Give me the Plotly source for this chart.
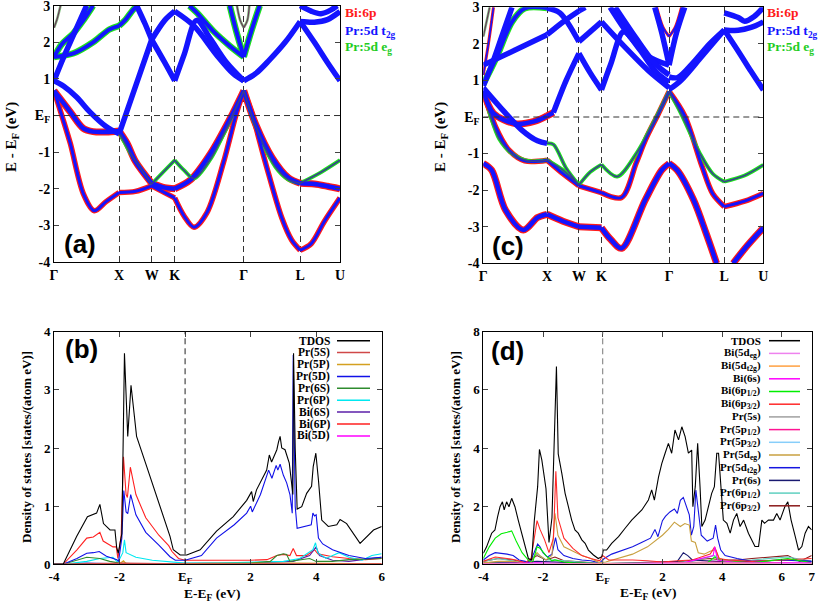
import plotly.graph_objects as go

# ---- band structure path (fcc, units of 2pi/a) ----
kpath = [0.0, 1.0, 1.5, 1.854, 2.915, 3.781, 4.393]
klabels = ['Γ', 'X', 'W', 'K', 'Γ', 'L', 'U']
band_ticks = [-4, -3, -2, -1, 0, 1, 2, 3]
band_ticktext = ['-4', '-3', '-2', '-1', 'E<sub>F</sub>', '1', '2', '3']

# ---- panel (a) bands, (k, E) ----
a_low = [(0, 0.68), (0.12, 0.0), (0.25, -0.76), (0.45, -2.13), (0.62, -2.6), (0.8, -2.35), (1.0, -2.1),
         (1.25, -2.07), (1.5, -1.92), (1.854, -2.25), (2.0, -2.75), (2.15, -3.05), (2.35, -2.65),
         (2.6, -1.3), (2.8, 0.05), (2.915, 0.68), (3.05, 0.0), (3.25, -1.3), (3.5, -2.8), (3.65, -3.4),
         (3.781, -3.68), (3.95, -3.5), (4.15, -2.9), (4.393, -2.25)]
a_mid = [(0, 0.68), (0.25, 0.1), (0.45, -0.35), (0.6, -0.44), (0.8, -0.45), (1.0, -0.42), (1.12, -0.75),
         (1.25, -1.25), (1.5, -1.85), (1.7, -1.97), (1.854, -2.0), (2.1, -1.75), (2.4, -1.05),
         (2.7, -0.1), (2.915, 0.68), (3.1, -0.25), (3.35, -1.15), (3.6, -1.7), (3.781, -1.85),
         (4.0, -1.87), (4.2, -1.93), (4.393, -2.0)]
a_eg_low = [(1.0, -0.45), (1.2, -1.1), (1.5, -1.87), (1.7, -1.5), (1.854, -1.22), (2.0, -1.5),
            (2.15, -1.72), (2.4, -1.2), (2.7, -0.15), (2.915, 0.68), (3.1, -0.3), (3.4, -1.4),
            (3.6, -1.75), (3.781, -1.85), (4.1, -1.55), (4.393, -1.22)]
a_t1 = [(0, 0.95), (0.15, 0.8), (0.35, 0.5), (0.55, 0.1), (0.8, -0.3), (1.0, -0.5), (1.15, 0.27),
        (1.3, 1.04), (1.5, 2.07), (1.7, 2.6), (1.854, 2.85), (2.15, 2.45), (2.5, 1.65), (2.75, 1.15),
        (2.915, 0.95)]
a_t2 = [(0, 0.95), (0.15, 1.6), (0.3, 2.2), (0.5, 3.0)]
a_t3 = [(1.27, 3.0), (1.4, 2.5), (1.5, 2.07), (1.7, 1.45), (1.854, 0.95), (2.0, 1.67), (2.19, 2.6),
        (2.4, 2.1), (2.65, 1.45), (2.915, 0.95)]
a_t4 = [(2.915, 0.95), (3.1, 1.15), (3.3, 1.5), (3.55, 2.0), (3.781, 2.57), (4.0, 2.55), (4.2, 2.62),
        (4.393, 2.84)]
a_t5 = [(3.781, 2.57), (4.0, 2.0), (4.2, 1.45), (4.393, 0.95)]
a_t6 = [(3.781, 3.0), (3.95, 2.85), (4.1, 2.78), (4.25, 2.88), (4.35, 3.0)]
a_eg1 = [(0, 1.6), (0.12, 1.95), (0.3, 2.25), (0.45, 2.6), (0.6, 3.0)]
a_eg2 = [(0, 1.6), (0.3, 1.7), (0.6, 2.0), (0.85, 2.35), (1.0, 2.45), (1.1, 2.62), (1.22, 2.9), (1.28, 3.0)]
a_eg3 = [(2.08, 3.0), (2.2, 2.8), (2.45, 2.3), (2.7, 1.9), (2.915, 1.6)]
a_eg4 = [(2.7, 3.0), (2.8, 2.3), (2.915, 1.6), (3.03, 2.3), (3.16, 3.0)]
a_p0 = [(0, 2.4), (0.05, 2.65), (0.1, 3.0)]
a_p1 = [(2.81, 3.0), (2.86, 2.6), (2.915, 2.4), (2.97, 2.6), (3.0, 3.0)]

# ---- panel (c) bands, (k, E) ----
c_low = [(0, -1.27), (0.13, -1.45), (0.35, -2.55), (0.63, -3.09), (0.85, -2.75), (1.0, -2.66),
         (1.25, -2.85), (1.5, -3.0), (1.854, -3.03), (2.0, -3.35), (2.17, -3.59), (2.54, -2.27),
         (2.8, -1.45), (2.915, -1.27), (3.04, -1.45), (3.3, -2.27), (3.5, -3.2), (3.66, -4.0)]
c_low2 = [(3.92, -4.0), (4.15, -3.5), (4.393, -3.03)]
c_mid = [(0, 0.7), (0.2, -0.3), (0.4, -0.9), (0.65, -1.2), (1.0, -1.18), (1.25, -1.55), (1.5, -1.88),
         (1.854, -2.07), (2.17, -2.2), (2.4, -1.25), (2.55, -0.6), (2.75, 0.1), (2.915, 0.7),
         (3.16, 0.03), (3.43, -1.34), (3.6, -2.1), (3.781, -2.45), (4.1, -2.3), (4.393, -2.09)]
c_eg_low = [(0, 0.7), (0.1, 0.1), (0.25, -0.6), (0.45, -1.0), (0.7, -1.2), (1.0, -1.18), (1.25, -1.45),
            (1.5, -1.86)]
c_t1a = [(0, 0.8), (0.25, 0.3), (0.6, -0.35), (0.85, -0.65), (1.0, -0.72)]
c_t1b = [(1.0, -0.72), (1.1, -0.75), (1.3, -1.4), (1.5, -1.86), (1.68, -1.5), (1.854, -1.3),
         (2.1, -1.63), (2.4, -1.0), (2.7, -0.05), (2.915, 0.7), (3.1, 0.1), (3.4, -1.0), (3.6, -1.55),
         (3.781, -1.77), (4.1, -1.6), (4.393, -1.31)]
c_bi_ef = [(0, 0.7), (0.16, 0.1), (0.5, -0.18), (0.8, -0.12), (1.0, 0.03), (1.1, 0.12)]
c_t2 = [(1.1, 0.12), (1.3, 1.0), (1.5, 1.74), (1.68, 1.2), (1.854, 0.74), (2.0, 1.45), (2.2, 2.33),
        (2.45, 1.85), (2.7, 1.25), (2.915, 0.95)]
c_eg1 = [(0, 0.9), (0.2, 1.6), (0.45, 2.6), (0.65, 2.97), (1.0, 2.98)]
c_t3 = [(1.0, 2.98), (1.2, 2.85), (1.5, 2.06), (1.854, 2.6), (2.2, 1.95), (2.6, 1.25), (2.915, 0.8)]
c_t4 = [(0, 1.42), (0.5, 1.83), (1.0, 2.25), (1.25, 2.6), (1.5, 2.9), (1.6, 3.0)]
c_t5 = [(0, 0.85), (0.15, 1.5), (0.3, 2.25), (0.45, 3.0)]
c_p0 = [(0, 1.15), (0.08, 2.0), (0.16, 3.0)]
c_p1 = [(0, 2.2), (0.05, 2.6), (0.1, 3.0)]
c_t6 = [(1.99, 3.0), (2.3, 2.2), (2.6, 1.65), (2.915, 1.42)]
c_t7 = [(2.07, 3.0), (2.4, 2.15), (2.7, 1.45), (2.915, 1.15)]
c_t8 = [(2.69, 3.0), (2.8, 2.3), (2.915, 1.42), (3.03, 2.3), (3.16, 3.0)]
c_p2 = [(2.72, 3.0), (2.82, 2.45), (2.915, 2.2), (3.01, 2.45), (3.11, 3.0)]
c_t9 = [(2.915, 0.75), (3.1, 1.0), (3.4, 1.6), (3.781, 2.38)]
c_t10 = [(2.915, 1.1), (3.05, 1.08), (3.3, 1.5), (3.55, 2.0), (3.781, 2.38)]
c_t11 = [(3.781, 2.38), (4.0, 1.8), (4.2, 1.25), (4.393, 0.74)]
c_t12 = [(3.781, 2.38), (4.0, 2.37), (4.2, 2.45), (4.393, 2.6)]
c_t13 = [(3.781, 2.85), (4.0, 2.72), (4.1, 2.62), (4.25, 2.75), (4.393, 3.0)]

# ---- panel (b) DOS, (E, DOS) ----
b_tdos = [(-4.0, 0), (-3.72, 0), (-3.31, 0.48), (-2.98, 0.82), (-2.7, 0.88), (-2.6, 1.03), (-2.49, 0.7),
          (-2.29, 0.59), (-2.14, 0.59), (-2.09, 0.3), (-2.04, 0.19), (-1.93, 0.53), (-1.85, 3.63),
          (-1.78, 2.7), (-1.75, 2.2), (-1.65, 3.08), (-1.48, 2.2), (-1.17, 1.68), (-0.77, 0.99),
          (-0.46, 0.48), (-0.36, 0.25), (-0.15, 0.16), (0.05, 0.16), (0.46, 0.25), (0.96, 0.57),
          (1.47, 0.82), (1.88, 1.1), (2.03, 1.25), (2.08, 1.08), (2.18, 1.28), (2.49, 1.62), (2.57, 1.88),
          (2.64, 1.76), (2.8, 1.97), (2.85, 2.1), (2.9, 2.2), (2.95, 2.0), (3.05, 1.97), (3.18, 1.74),
          (3.25, 1.4), (3.29, 1.2), (3.31, 3.63), (3.36, 2.0), (3.42, 0.95), (3.56, 0.99), (3.71, 1.22),
          (3.86, 1.34), (3.91, 1.68), (3.99, 1.91), (4.07, 1.45), (4.17, 0.76), (4.37, 0.65), (4.63, 0.68),
          (4.73, 0.77), (4.93, 0.7), (5.34, 0.36), (5.54, 0.48), (5.75, 0.59), (6.0, 0.65)]
b_pr5s = [(-4.0, 0), (-3.0, 0.01), (-1.9, 0.02), (0, 0.01), (3.0, 0.01), (6.0, 0.01)]
b_pr5p = [(-4.0, 0), (-2.0, 0.01), (-1.88, 0.06), (-1.8, 0.01), (3.3, 0.02), (6.0, 0.01)]
b_pr5d = [(-4.0, 0), (-3.72, 0), (-3.3, 0.1), (-3.0, 0.19), (-2.8, 0.2), (-2.62, 0.22), (-2.4, 0.14),
          (-2.2, 0.1), (-2.08, 0.08), (-2.03, 0.05), (-1.93, 0.45), (-1.87, 1.27), (-1.8, 0.9),
          (-1.75, 0.87), (-1.66, 1.2), (-1.5, 0.85), (-1.2, 0.55), (-0.8, 0.33), (-0.46, 0.13),
          (-0.3, 0.07), (0.0, 0.07), (0.5, 0.15), (0.96, 0.45), (1.5, 0.68), (1.88, 0.88), (2.0, 1.0),
          (2.05, 0.9), (2.3, 1.2), (2.55, 1.62), (2.65, 1.48), (2.78, 1.7), (2.83, 1.62), (2.9, 1.72),
          (3.0, 1.53), (3.1, 1.4), (3.2, 1.2), (3.27, 0.88), (3.3, 3.6), (3.36, 1.0), (3.42, 0.62),
          (3.6, 0.65), (3.85, 0.68), (3.9, 0.88), (3.95, 0.83), (4.0, 0.85), (4.07, 0.45), (4.2, 0.35),
          (4.5, 0.25), (5.0, 0.15), (5.5, 0.1), (6.0, 0.12)]
b_pr6s = [(-4.0, 0), (-3.72, 0), (-3.0, 0.12), (-2.6, 0.1), (-2.3, 0.05), (-2.0, 0.02), (-1.5, 0.01),
          (0, 0.01), (2.0, 0.02), (2.6, 0.05), (2.8, 0.15), (3.0, 0.18), (3.1, 0.17), (3.2, 0.05),
          (3.8, 0.1), (4.0, 0.05), (4.5, 0.05), (5.0, 0.08), (6.0, 0.1)]
b_pr6p = [(-4.0, 0), (-3.72, 0), (-3.0, 0.05), (-2.6, 0.1), (-2.2, 0.12), (-2.05, 0.03), (-1.9, 0.2),
          (-1.85, 0.42), (-1.8, 0.2), (-1.7, 0.17), (-1.5, 0.12), (-1.0, 0.07), (-0.5, 0.05), (0, 0.02),
          (1.0, 0.02), (2.0, 0.03), (3.0, 0.05), (3.5, 0.1), (3.9, 0.25), (3.98, 0.37), (4.05, 0.2),
          (4.3, 0.1), (4.7, 0.2), (5.0, 0.12), (5.4, 0.07), (5.7, 0.15), (6.0, 0.18)]
b_bi6s = [(-4.0, 0), (-3.0, 0.02), (-2.0, 0.01), (0, 0.01), (2.0, 0.02), (3.3, 0.05), (3.8, 0.15),
          (4.0, 0.3), (4.1, 0.15), (4.5, 0.07), (5.0, 0.05), (6.0, 0.12)]
b_bi6p = [(-4.0, 0), (-3.72, 0), (-3.3, 0.25), (-3.0, 0.45), (-2.8, 0.47), (-2.6, 0.55), (-2.5, 0.4),
          (-2.2, 0.3), (-2.1, 0.3), (-2.05, 0.1), (-1.95, 0.5), (-1.88, 1.85), (-1.8, 1.2), (-1.76, 1.15),
          (-1.67, 1.67), (-1.5, 1.2), (-1.2, 0.8), (-0.8, 0.5), (-0.5, 0.32), (-0.4, 0.22), (-0.2, 0.1),
          (0, 0.07), (0.5, 0.07), (1.0, 0.07), (1.5, 0.06), (2.0, 0.07), (2.5, 0.08), (2.8, 0.15),
          (3.0, 0.17), (3.2, 0.15), (3.3, 0.27), (3.4, 0.15), (3.7, 0.15), (3.95, 0.25), (4.05, 0.18),
          (4.5, 0.13), (5.0, 0.1), (5.5, 0.08), (6.0, 0.1)]
b_bi5d = [(-4.0, 0), (-2.0, 0.005), (0, 0.005), (4.0, 0.01), (6.0, 0.01)]

# ---- panel (d) DOS, (E, DOS) ----
d_tdos = [(-4.0, 0.38), (-3.89, 0.6), (-3.72, 1.07), (-3.61, 1.18), (-3.52, 1.64), (-3.44, 1.98),
          (-3.36, 2.15), (-3.3, 1.87), (-3.22, 2.15), (-3.14, 1.98), (-3.05, 2.27), (-2.94, 1.98),
          (-2.83, 1.52), (-2.72, 1.07), (-2.6, 0.6), (-2.49, 0.2), (-2.38, 0.15), (-2.29, 1.52),
          (-2.18, 2.67), (-2.12, 3.95), (-2.04, 3.59), (-1.96, 3.07), (-1.9, 2.6), (-1.8, 0.75),
          (-1.7, 1.6), (-1.55, 6.8), (-1.49, 3.8), (-1.37, 3.13), (-1.26, 2.44), (-1.15, 1.98),
          (-1.04, 1.52), (-0.93, 1.18), (-0.82, 1.07), (-0.7, 0.84), (-0.59, 0.72), (-0.48, 0.49),
          (-0.31, 0.32), (-0.15, 0.2), (-0.03, 0.26), (0.02, 0.49), (0.13, 0.49), (0.3, 0.72),
          (0.53, 0.95), (0.75, 1.24), (0.97, 1.52), (1.31, 1.87), (1.53, 2.21), (1.64, 2.56),
          (1.73, 2.21), (1.87, 3.01), (1.98, 3.47), (2.09, 3.82), (2.2, 4.16), (2.31, 3.82), (2.42, 4.62),
          (2.54, 4.28), (2.65, 4.73), (2.76, 4.39), (2.87, 3.82), (2.98, 3.93), (3.02, 1.98), (3.1, 2.67),
          (3.18, 4.16), (3.26, 2.67), (3.32, 1.3), (3.43, 1.52), (3.54, 1.98), (3.65, 2.44), (3.74, 2.67),
          (3.82, 3.82), (3.88, 3.82), (3.97, 2.44), (4.04, 1.52), (4.16, 1.41), (4.27, 1.07), (4.38, 1.52),
          (4.49, 1.75), (4.6, 1.3), (4.72, 1.52), (4.88, 1.07), (5.0, 0.84), (5.1, 0.61), (5.22, 0.61),
          (5.33, 1.52), (5.42, 1.41), (5.55, 1.52), (5.72, 1.52), (5.83, 1.75), (5.94, 1.52), (6.1, 1.98),
          (6.2, 2.15), (6.31, 1.52), (6.45, 0.95), (6.56, 0.49), (6.67, 0.61), (6.78, 1.07), (6.89, 1.3),
          (7.0, 1.18)]
d_bi5d_eg = [(-4.0, 0.01), (-2.2, 0.03), (0, 0.01), (3.75, 0.05), (7.0, 0.02)]
d_bi5d_t2g = [(-4.0, 0.01), (-2.2, 0.02), (0, 0.01), (3.75, 0.04), (7.0, 0.02)]
d_bi6s = [(-4.0, 0.02), (-2.2, 0.05), (-1.0, 0.02), (0, 0.01), (2.7, 0.05), (3.7, 0.3), (3.75, 0.6),
          (3.85, 0.15), (4.5, 0.05), (7.0, 0.05)]
d_bi6p12 = [(-4.0, 0.2), (-3.8, 0.6), (-3.6, 0.9), (-3.4, 1.05), (-3.2, 1.1), (-3.05, 1.15), (-2.9, 0.8),
            (-2.7, 0.4), (-2.5, 0.15), (-2.35, 0.05), (-2.2, 0.6), (-2.1, 0.55), (-1.9, 0.3), (-1.7, 0.12),
            (-1.6, 0.15), (-1.3, 0.08), (-1.0, 0.05), (0, 0.02), (2.0, 0.02), (3.0, 0.03), (3.5, 0.05),
            (3.75, 0.25), (4.0, 0.1), (5.0, 0.05), (6.2, 0.2), (7.0, 0.05)]
d_bi6p32 = [(-4.0, 0.1), (-3.6, 0.25), (-3.2, 0.2), (-2.9, 0.15), (-2.6, 0.05), (-2.4, 0.2), (-2.2, 1.5),
            (-2.1, 1.2), (-1.95, 0.85), (-1.8, 0.4), (-1.65, 0.9), (-1.57, 3.2), (-1.5, 1.6), (-1.3, 0.9),
            (-1.0, 0.55), (-0.7, 0.3), (-0.4, 0.2), (-0.1, 0.12), (0.0, 0.3), (0.2, 0.15), (0.5, 0.15),
            (1.0, 0.15), (1.5, 0.12), (2.0, 0.08), (2.5, 0.12), (3.0, 0.15), (3.3, 0.25), (3.6, 0.35),
            (3.75, 0.6), (3.9, 0.2), (4.2, 0.15), (5.0, 0.1), (6.0, 0.15), (7.0, 0.2)]
d_pr5s = [(-4.0, 0.01), (-2.0, 0.01), (0, 0.01), (4.0, 0.02), (7.0, 0.01)]
d_pr5p12 = [(-4.0, 0.01), (-2.2, 0.03), (0, 0.01), (3.75, 0.08), (7.0, 0.02)]
d_pr5p32 = [(-4.0, 0.01), (-2.2, 0.02), (0, 0.01), (3.75, 0.05), (7.0, 0.02)]
d_pr5d_eg = [(-4.0, 0.05), (-3.5, 0.1), (-3.0, 0.1), (-2.6, 0.05), (-2.45, 0.02), (-2.2, 0.4), (-2.1, 0.3),
             (-1.9, 0.15), (-1.7, 0.3), (-1.6, 1.75), (-1.5, 1.0), (-1.3, 0.6), (-1.0, 0.45), (-0.7, 0.3),
             (-0.4, 0.2), (-0.1, 0.05), (0.1, 0.08), (0.5, 0.2), (1.0, 0.35), (1.5, 0.6), (2.0, 1.0),
             (2.2, 1.2), (2.4, 1.45), (2.6, 1.3), (2.75, 1.4), (2.9, 1.35), (2.97, 0.8), (3.1, 0.75),
             (3.2, 0.4), (3.4, 0.35), (3.6, 0.45), (3.78, 0.5), (3.9, 0.2), (4.2, 0.1), (5.0, 0.05),
             (7.0, 0.03)]
d_pr5d_t2g = [(-4.0, 0.15), (-3.8, 0.3), (-3.6, 0.4), (-3.4, 0.38), (-3.2, 0.35), (-3.0, 0.3), (-2.8, 0.15),
              (-2.6, 0.1), (-2.45, 0.05), (-2.3, 0.4), (-2.18, 0.7), (-2.1, 0.6), (-2.0, 0.4), (-1.85, 0.25),
              (-1.7, 0.35), (-1.58, 0.92), (-1.5, 0.5), (-1.3, 0.3), (-1.0, 0.2), (-0.7, 0.15), (-0.4, 0.12),
              (-0.1, 0.05), (0.05, 0.2), (0.3, 0.35), (0.6, 0.45), (1.0, 0.6), (1.3, 0.75), (1.6, 0.9),
              (1.75, 1.2), (1.85, 0.95), (2.0, 1.5), (2.1, 1.65), (2.25, 1.8), (2.4, 1.9), (2.5, 1.75),
              (2.6, 2.2), (2.7, 2.3), (2.8, 2.0), (2.9, 1.7), (2.97, 1.0), (3.05, 1.3), (3.12, 2.55),
              (3.2, 1.9), (3.3, 1.0), (3.5, 0.8), (3.7, 0.9), (3.78, 1.35), (3.85, 0.9), (3.95, 0.5),
              (4.1, 0.3), (4.5, 0.2), (5.0, 0.1), (6.0, 0.15), (7.0, 0.1)]
d_pr6s = [(-4.0, 0.05), (-3.0, 0.05), (-2.2, 0.1), (0, 0.02), (2.5, 0.1), (2.7, 0.4), (2.85, 0.3),
          (3.0, 0.15), (3.8, 0.1), (5.0, 0.1), (6.2, 0.15), (7.0, 0.1)]
d_pr6p12 = [(-4.0, 0.1), (-3.5, 0.2), (-2.6, 0.05), (-2.2, 0.35), (-1.9, 0.15), (-1.6, 0.15), (0, 0.02),
            (2.0, 0.03), (3.0, 0.1), (3.75, 0.3), (4.0, 0.1), (5.0, 0.15), (6.2, 0.25), (7.0, 0.1)]
d_pr6p32 = [(-4.0, 0.1), (-3.5, 0.2), (-3.0, 0.15), (-2.6, 0.05), (-2.2, 0.3), (-1.9, 0.15), (-1.6, 0.25),
            (-1.3, 0.12), (-1.0, 0.1), (0, 0.03), (2.0, 0.05), (2.7, 0.1), (3.0, 0.15), (3.6, 0.2),
            (4.0, 0.15), (4.5, 0.15), (5.0, 0.2), (5.5, 0.25), (6.2, 0.3), (6.6, 0.1), (7.0, 0.3)]

BLUE = '#1414ff'
RED = '#ff1a1a'
GREEN = '#1ee01e'
SERIF = 'Liberation Serif'
W, H = 830, 614

# line looks for the "fat band" drawing: (halo colour, halo width, core colour, core width)
STYLES = {
    'blue': (None, 0, BLUE, 5.5),
    'red': (RED, 5.5, BLUE, 3),
    'redfat': (RED, 7, BLUE, 4.5),
    'green': (GREEN, 3.8, '#3a3f8f', 1.6),
    'greenfat': (GREEN, 6.5, BLUE, 4),
    'thin': ('#7fbf7f', 2.6, '#6a3a5a', 1.2),
    'thinred': (RED, 3, BLUE, 1.6),
}

bands_a = [(a_low, 'red'), (a_mid, 'redfat'), (a_eg_low, 'green'), (a_t1, 'blue'), (a_t2, 'blue'),
           (a_t3, 'blue'), (a_t4, 'blue'), (a_t5, 'blue'), (a_t6, 'blue'), (a_eg1, 'greenfat'),
           (a_eg2, 'greenfat'), (a_eg3, 'greenfat'), (a_eg4, 'greenfat'), (a_p0, 'thin'), (a_p1, 'thin')]
bands_c = [(c_low, 'redfat'), (c_low2, 'redfat'), (c_mid, 'red'), (c_eg_low, 'green'), (c_t1a, 'blue'),
           (c_t1b, 'green'), (c_bi_ef, 'redfat'), (c_t2, 'blue'), (c_eg1, 'greenfat'), (c_t3, 'blue'),
           (c_t4, 'blue'), (c_t5, 'blue'), (c_p0, 'thinred'), (c_p1, 'thin'), (c_t6, 'blue'),
           (c_t7, 'blue'), (c_t8, 'blue'), (c_p2, 'thinred'), (c_t9, 'blue'), (c_t10, 'blue'),
           (c_t11, 'blue'), (c_t12, 'blue'), (c_t13, 'blue')]

dos_b = [('TDOS', b_tdos, '#000000'), ('Pr(5S)', b_pr5s, '#d04848'), ('Pr(5P)', b_pr5p, '#d4a020'),
         ('Pr(5D)', b_pr5d, '#1010e8'), ('Pr(6S)', b_pr6s, '#2e8b2e'), ('Pr(6P)', b_pr6p, '#00e8f0'),
         ('Bi(6S)', b_bi6s, '#5b1fa8'), ('Bi(6P)', b_bi6p, '#ff2020'), ('Bi(5D)', b_bi5d, '#ff00ff')]
dos_d = [('TDOS', d_tdos, '#000000'),
         ('Bi(5d<sub>eg</sub>)', d_bi5d_eg, '#ee82ee'),
         ('Bi(5d<sub>t2g</sub>)', d_bi5d_t2g, '#ffa040'),
         ('Bi(6s)', d_bi6s, '#ff00ff'),
         ('Bi(6p<sub>1/2</sub>)', d_bi6p12, '#00ee00'),
         ('Bi(6p<sub>3/2</sub>)', d_bi6p32, '#ff2a2a'),
         ('Pr(5s)', d_pr5s, '#a0a0a0'),
         ('Pr(5p<sub>1/2</sub>)', d_pr5p12, '#ff1493'),
         ('Pr(5p<sub>3/2</sub>)', d_pr5p32, '#87cefa'),
         ('Pr(5d<sub>eg</sub>)', d_pr5d_eg, '#c8a040'),
         ('Pr(5d<sub>t2g</sub>)', d_pr5d_t2g, '#1515e0'),
         ('Pr(6s)', d_pr6s, '#191970'),
         ('Pr(6p<sub>1/2</sub>)', d_pr6p12, '#5fd0c0'),
         ('Pr(6p<sub>3/2</sub>)', d_pr6p32, '#8b1a1a')]


def px(x):
    return x / W


def py(y):
    return 1 - y / H


def split_at_kpoints(pts):
    # break a band at every high-symmetry point so kinks stay sharp
    xs, ys, cur = [], [], [pts[0]]
    for p in pts[1:]:
        cur.append(p)
        if any(abs(p[0] - k) < 1e-6 for k in kpath):
            xs += [q[0] for q in cur] + [None]
            ys += [q[1] for q in cur] + [None]
            cur = [p]
    if len(cur) > 1:
        xs += [q[0] for q in cur]
        ys += [q[1] for q in cur]
    return xs, ys


def add_bands(fig, bands, xa, ya):
    # halos first, cores on top
    for layer in (0, 1):
        for pts, style in bands:
            halo, hw, core, cw = STYLES[style]
            xs, ys = split_at_kpoints(pts)
            if layer == 0:
                if halo is None:
                    continue
                color, width = halo, hw
            else:
                color, width = core, cw
            fig.add_trace(go.Scatter(x=xs, y=ys, mode='lines', xaxis=xa, yaxis=ya, showlegend=False,
                                     connectgaps=False, hoverinfo='skip',
                                     line=dict(color=color, width=width, shape='spline', smoothing=0.9)))


def add_dos(fig, series, xa, ya):
    for name, pts, color in reversed(series):
        fig.add_trace(go.Scatter(x=[p[0] for p in pts], y=[p[1] for p in pts], mode='lines', name=name,
                                 xaxis=xa, yaxis=ya, showlegend=False,
                                 line=dict(color=color, width=1.1)))


def note(fig, text, x, y, size, color='black', family=SERIF, angle=0, xanchor='center'):
    fig.add_annotation(text=text, x=px(x), y=py(y), xref='paper', yref='paper', showarrow=False,
                       xanchor=xanchor, yanchor='middle', textangle=angle,
                       font=dict(family=family, size=size, color=color, weight='bold'))


fig = go.Figure()
add_bands(fig, bands_a, 'x', 'y')
add_bands(fig, bands_c, 'x2', 'y2')
add_dos(fig, dos_b, 'x3', 'y3')
add_dos(fig, dos_d, 'x4', 'y4')

tick_font = dict(family=SERIF, size=14, color='black', weight='bold')
frame = dict(showline=True, linecolor='black', linewidth=1, mirror='allticks', zeroline=False,
             automargin=False, ticklabeloverflow='allow')

band_x = dict(range=[kpath[0], kpath[-1]], tickvals=kpath, ticktext=klabels, ticks='', showgrid=True,
              gridcolor='#333333', gridwidth=1, griddash='6px,4px', tickfont=tick_font, **frame)
band_y = dict(range=[-4, 3], tickvals=band_ticks, ticktext=band_ticktext, ticks='inside', ticklen=5,
              showgrid=False, tickfont=tick_font, **frame)
dos_font = dict(family=SERIF, size=13, color='black', weight='bold')

fig.update_layout(
    width=W, height=H, autosize=False, margin=dict(l=0, r=0, t=0, b=0, pad=0, autoexpand=False),
    paper_bgcolor='white', plot_bgcolor='white', showlegend=False,
    xaxis=dict(domain=[px(54), px(340)], anchor='y', **band_x),
    yaxis=dict(domain=[py(262), py(5.7)], anchor='x', **band_y),
    xaxis2=dict(domain=[px(483.3), px(763.3)], anchor='y2', **band_x),
    yaxis2=dict(domain=[py(263.3), py(7.3)], anchor='x2', **band_y),
    xaxis3=dict(domain=[px(54), px(381.7)], anchor='y3', range=[-4, 6], tickvals=[-4, -2, 0, 2, 4, 6],
                ticktext=['-4', '-2', 'E<sub>F</sub>', '2', '4', '6'], ticks='inside', ticklen=5,
                showgrid=False, tickfont=dos_font, **frame),
    yaxis3=dict(domain=[py(564.3), py(331.7)], anchor='x3', range=[0, 4], tickvals=[0, 1, 2, 3, 4],
                ticks='inside', ticklen=5, showgrid=False, tickfont=dos_font, **frame),
    xaxis4=dict(domain=[px(483.3), px(811.7)], anchor='y4', range=[-4, 7], tickvals=[-4, -2, 0, 2, 4, 6, 7],
                ticktext=['-4', '-2', 'E<sub>F</sub>', '2', '4', '6', '7'], ticks='inside', ticklen=5,
                showgrid=False, tickfont=dos_font, **frame),
    yaxis4=dict(domain=[py(564.3), py(331.7)], anchor='x4', range=[0, 8], tickvals=[0, 2, 4, 6, 8],
                ticks='inside', ticklen=5, showgrid=False, tickfont=dos_font, **frame),
)

# Fermi level guides
dash = '6px,4px'
for xa, ya in (('x', 'y'), ('x2', 'y2')):
    fig.add_shape(type='line', xref=xa + ' domain', yref=ya, x0=0, x1=1, y0=0, y1=0,
                  line=dict(color='#333333', width=1, dash=dash))
fig.add_shape(type='line', xref='x3', yref='y3 domain', x0=0, x1=0, y0=0, y1=1,
              line=dict(color='#222222', width=1, dash=dash))
fig.add_shape(type='line', xref='x4', yref='y4 domain', x0=0, x1=0, y0=0, y1=1,
              line=dict(color='#777777', width=1, dash=dash))

# panel letters
for txt, x, y in (('(a)', 80, 244), ('(c)', 508, 246), ('(b)', 81, 349), ('(d)', 507, 351)):
    note(fig, txt, x, y, 26, family='Liberation Sans')

# band-character keys
for x0 in (343, 765):
    for txt, col, y in (('Bi:6p', RED, 12), ('Pr:5d t<sub>2g</sub>', BLUE, 31),
                        ('Pr:5d e<sub>g</sub>', '#22cc22', 47)):
        note(fig, txt, x0, y, 13.5, color=col, xanchor='left')

# axis titles
for x in (12, 441):
    note(fig, 'E - E<sub>F</sub> (eV)', x, 137, 15, angle=-90)
for x in (26, 455):
    note(fig, 'Density of states [states/(atom eV)]', x, 447, 13, angle=-90)
for x, y in ((212, 594), (648, 593)):
    note(fig, 'E-E<sub>F</sub> (eV)', x, y, 13.5)

# DOS keys: label right-aligned, line sample to the right
for series, xt, xl0, xl1, y0, step, size in ((dos_b, 331.5, 337, 370, 340.7, 11.9, 11.5),
                                              (dos_d, 763, 769, 800, 340.7, 12.7, 11)):
    for i, (name, _, color) in enumerate(series):
        y = y0 + i * step
        note(fig, name, xt, y, size, xanchor='right')
        fig.add_shape(type='line', xref='paper', yref='paper', x0=px(xl0), x1=px(xl1), y0=py(y), y1=py(y),
                      line=dict(color=color, width=1.5))

# the page's default body margin would offset the fixed-size figure
fig.write_html("out.html", config={'displayModeBar': False},
               post_script="document.body.style.margin='0px';")
